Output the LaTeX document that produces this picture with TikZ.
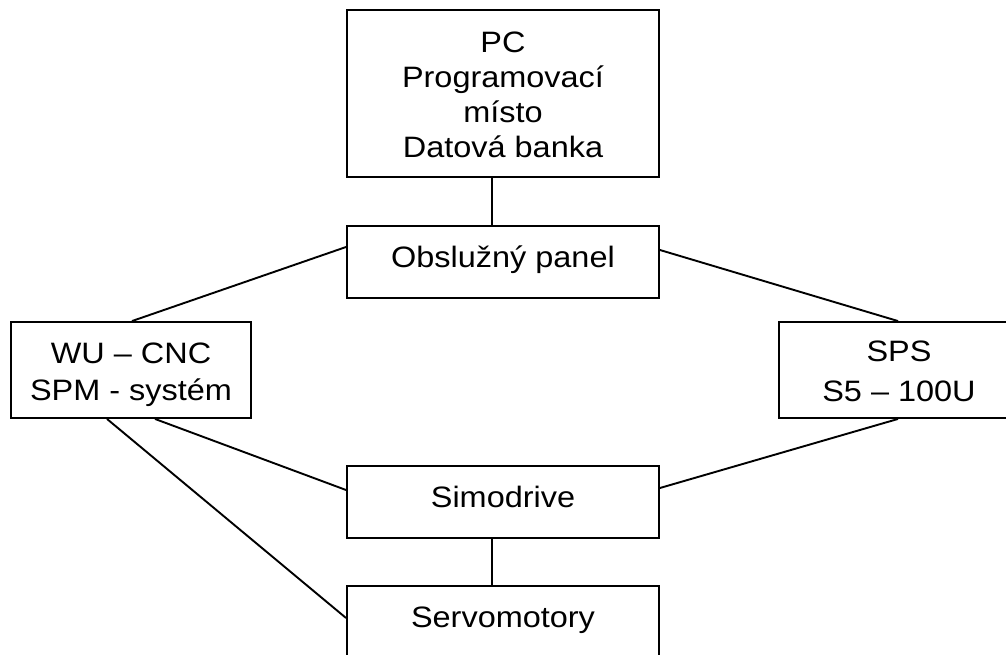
\documentclass[tikz,border=0pt]{standalone}
\usepackage{fontspec}
\setmainfont[FakeStretch=1.1]{Liberation Sans}
\begin{document}
\begin{tikzpicture}[x=1pt,y=-1pt,
  box/.style={draw, line width=1.9pt, inner sep=0pt, minimum width=312pt, minimum height=72pt},
  sidebox/.style={box, minimum width=240pt, minimum height=96pt},
  lbl/.style={anchor=base, inner sep=0pt, font=\fontsize{29.5}{35}\selectfont},
  conn/.style={line width=1.9pt}]
\useasboundingbox (0,0) rectangle (1006,655);
\clip (0,0) rectangle (1006,655);
\fill[white] (0,0) rectangle (1006,655);
% boxes
\node[box, minimum height=167pt] (pc) at (503,93.5) {};
\node[box] (panel) at (503,262) {};
\node[sidebox] (wu) at (131,370) {};
\node[sidebox] (sps) at (899,370) {};
\node[box] (sim) at (503,502) {};
\node[box] (servo) at (503,622) {};
% texts
\node[lbl] (pc1) at (503,53) {PC};
\node[lbl] (pc2) at (503,88) {Programovací};
\node[lbl] (pc3) at (503,123) {místo};
\node[lbl] (pc4) at (503,158) {Datová banka};
\node[lbl] (panelT) at (503,267) {Obslužný panel};
\node[lbl] (wu1) at (131,363) {WU – CNC};
\node[lbl] (wu2) at (131,400) {SPM - systém};
\node[lbl] (sps1) at (899,361) {SPS};
\node[lbl] (sps2) at (899,401) {S5 – 100U};
\node[lbl] (simT) at (503,507) {Simodrive};
\node[lbl] (servoT) at (503,627) {Servomotory};
% connectors
\draw[conn] ([xshift=-11pt]pc.south) -- ([xshift=-11pt]panel.north);
\draw[conn] ([yshift=15pt]panel.west) -- ([xshift=1pt]wu.north);
\draw[conn] ([yshift=12pt]panel.east) -- ([xshift=-1pt]sps.north);
\draw[conn] ([xshift=24pt]wu.south) -- ([yshift=12pt]sim.west);
\draw[conn] ([xshift=-24pt]wu.south) -- ([yshift=4pt]servo.west);
\draw[conn] ([yshift=14pt]sim.east) -- ([xshift=-1pt]sps.south);
\draw[conn] ([xshift=-11pt]sim.south) -- ([xshift=-11pt]servo.north);
\end{tikzpicture}
\end{document}
